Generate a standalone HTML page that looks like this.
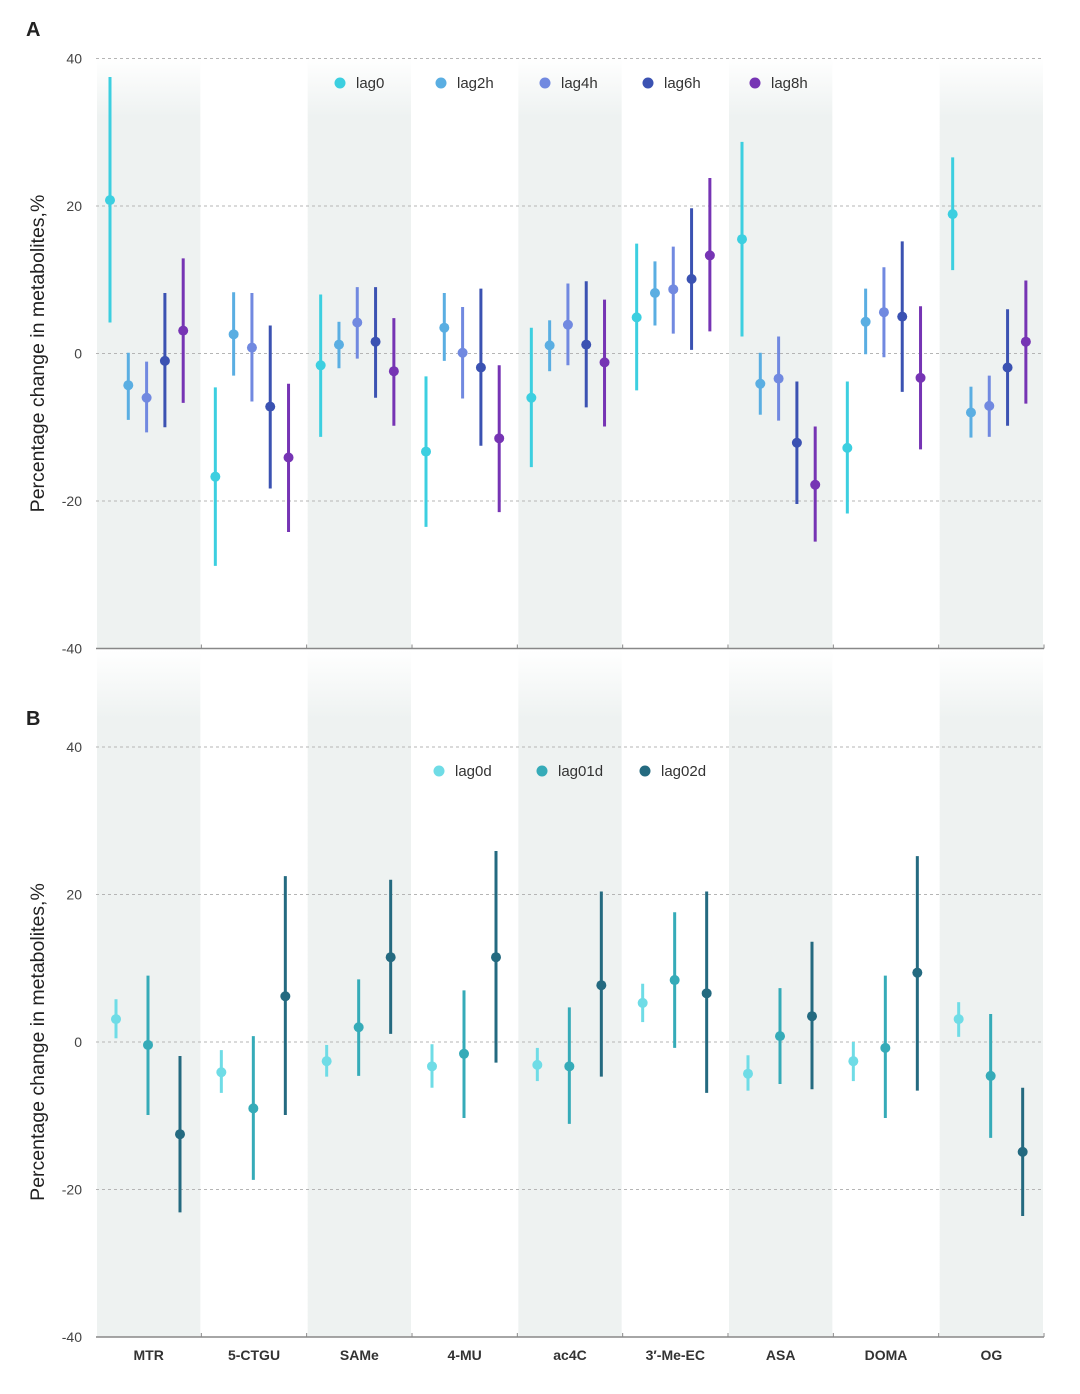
<!DOCTYPE html>
<html><head><meta charset="utf-8">
<style>
html,body{margin:0;padding:0;background:#fff;}
svg{display:block;font-family:"Liberation Sans",sans-serif;}
</style></head>
<body>
<svg id="chart" width="1080" height="1394" viewBox="0 0 1080 1394" xmlns="http://www.w3.org/2000/svg">
<defs>
<linearGradient id="bandA" x1="0" y1="0" x2="0" y2="1">
<stop offset="0" stop-color="#eef2f1" stop-opacity="0"/>
<stop offset="0.1" stop-color="#eef2f1" stop-opacity="1"/>
<stop offset="1" stop-color="#eef2f1" stop-opacity="1"/>
</linearGradient>
</defs>
<g id="root"></g>
</svg>
<script>
const categories = ["MTR","5-CTGU","SAMe","4-MU","ac4C","3\u2032-Me-EC","ASA","DOMA","OG"];
const seriesA = ["lag0","lag2h","lag4h","lag6h","lag8h"];
const colorsA = ["#3ccfe0","#5aaee2","#7189e0","#3b52b2","#7634b4"];
// [estimate, low, high] per category
const lag0 = [[20.8,4.2,37.5],[-16.7,-28.8,-4.6],[-1.6,-11.3,8],[-13.3,-23.5,-3.1],[-6,-15.4,3.5],[4.9,-5,14.9],[15.5,2.3,28.7],[-12.8,-21.7,-3.8],[18.9,11.3,26.6]];
const lag2h = [[-4.3,-9,0.1],[2.6,-3,8.3],[1.2,-2,4.3],[3.5,-1,8.2],[1.1,-2.4,4.5],[8.2,3.8,12.5],[-4.1,-8.3,0.1],[4.3,-0.1,8.8],[-8,-11.4,-4.5]];
const lag4h = [[-6,-10.7,-1.1],[0.8,-6.5,8.2],[4.2,-0.7,9],[0.1,-6.1,6.3],[3.9,-1.6,9.5],[8.7,2.7,14.5],[-3.4,-9.1,2.3],[5.6,-0.5,11.7],[-7.1,-11.3,-3]];
const lag6h = [[-1,-10,8.2],[-7.2,-18.3,3.8],[1.6,-6,9],[-1.9,-12.5,8.8],[1.2,-7.3,9.8],[10.1,0.5,19.7],[-12.1,-20.4,-3.8],[5,-5.2,15.2],[-1.9,-9.8,6]];
const lag8h = [[3.1,-6.7,12.9],[-14.1,-24.2,-4.1],[-2.4,-9.8,4.8],[-11.5,-21.5,-1.6],[-1.2,-9.9,7.3],[13.3,3,23.8],[-17.8,-25.5,-9.9],[-3.3,-13,6.4],[1.6,-6.8,9.9]];
const seriesB = ["lag0d","lag01d","lag02d"];
const colorsB = ["#6fdce6","#35abb8","#246a80"];
const lag0d = [[3.1,0.5,5.8],[-4.1,-6.9,-1.1],[-2.6,-4.7,-0.4],[-3.3,-6.2,-0.3],[-3.1,-5.3,-0.8],[5.3,2.7,7.9],[-4.3,-6.6,-1.8],[-2.6,-5.3,0],[3.1,0.7,5.4]];
const lag01d = [[-0.4,-9.9,9],[-9,-18.7,0.8],[2,-4.6,8.5],[-1.6,-10.3,7],[-3.3,-11.1,4.7],[8.4,-0.8,17.6],[0.8,-5.7,7.3],[-0.8,-10.3,9],[-4.6,-13,3.8]];
const lag02d = [[-12.5,-23.1,-1.9],[6.2,-9.9,22.5],[11.5,1.1,22],[11.5,-2.8,25.9],[7.7,-4.7,20.4],[6.6,-6.9,20.4],[3.5,-6.4,13.6],[9.4,-6.6,25.2],[-14.9,-23.6,-6.2]];
const yTicks = [40,20,0,-20,-40];

const NS="http://www.w3.org/2000/svg";
const root=document.getElementById('root');
function mk(tag,attrs,parent){const e=document.createElementNS(NS,tag);for(const k in attrs)e.setAttribute(k,attrs[k]);(parent||root).appendChild(e);return e;}
const X0=96,X1=1044,GW=(X1-X0)/categories.length;

function panel(p){
  const y=v=>p.y0-v*(p.y0-p.y40)/40;
  const g=mk('g',{});
  
  
  for(let i=0;i<categories.length;i+=2){
    const r=mk('rect',{x:X0+i*GW+1,y:p.bandTop,width:GW-2,height:y(-40)-p.bandTop,fill:'url(#bandA)'},g);
    
    
  }
  yTicks.forEach(t=>{
    if(t!==-40){
      const l=mk('line',{x1:X0,x2:X1,y1:y(t),y2:y(t),stroke:'#b5b5b5','stroke-dasharray':'3,3','stroke-width':1},g);
      
      
    }
    const tx=mk('text',{x:82,y:y(t)+5,'text-anchor':'end','font-size':14,fill:'#444'},g);
    tx.textContent=t;
    
    
  });
  const ax=mk('line',{x1:X0,x2:X1,y1:y(-40),y2:y(-40),stroke:'#888','stroke-width':1.5},g);
  
  
  for(let i=1;i<=categories.length;i++){
    const tk=mk('line',{x1:X0+i*GW,x2:X0+i*GW,y1:y(-40),y2:y(-40)-4,stroke:'#888','stroke-width':1},g);
    
    
  }
  const lab=mk('text',{x:26,y:p.labelY,'font-size':20,'font-weight':'bold',fill:'#222'},g);
  lab.textContent=p.letter;
  
  
  const yt=mk('text',{x:0,y:0,'font-size':19.5,fill:'#222','text-anchor':'middle',transform:`translate(44,${y(0)}) rotate(-90)`},g);
  yt.textContent='Percentage change in metabolites,%';
  
  
  p.series.forEach((s,si)=>{
    s.forEach((d,ci)=>{
      const cx=X0+ci*GW+p.off0+si*p.step;
      const l=mk('line',{x1:cx,x2:cx,y1:y(d[1]),y2:y(d[2]),stroke:p.colors[si],'stroke-width':3},g);
      
      
      const c=mk('circle',{cx:cx,cy:y(d[0]),r:5,fill:p.colors[si]},g);
      
      
    });
  });
  p.names.forEach((n,i)=>{
    const lx=p.legX[i];
    const c=mk('circle',{cx:lx,cy:p.legY,r:5.5,fill:p.colors[i]},g);
    
    
    const t=mk('text',{x:lx+16,y:p.legY+5,'font-size':15,fill:'#333'},g);
    t.textContent=n;
    
    
  });
}
panel({name:'a',letter:'A',labelY:36,y40:58.5,y0:353.5,bandTop:58,series:[lag0,lag2h,lag4h,lag6h,lag8h],colors:colorsA,names:seriesA,off0:14,step:18.3,legX:[340,441,545,648,755],legY:83});
panel({name:'b',letter:'B',labelY:725,y40:747,y0:1042,bandTop:650,series:[lag0d,lag01d,lag02d],colors:colorsB,names:seriesB,off0:20,step:32,legX:[439,542,645],legY:771});
categories.forEach((c,i)=>{
  const t=mk('text',{x:X0+(i+0.5)*GW,y:1360,'text-anchor':'middle','font-size':14,'font-weight':'bold',fill:'#333'});
  t.textContent=c;
  
  
});
</script>
</body></html>
